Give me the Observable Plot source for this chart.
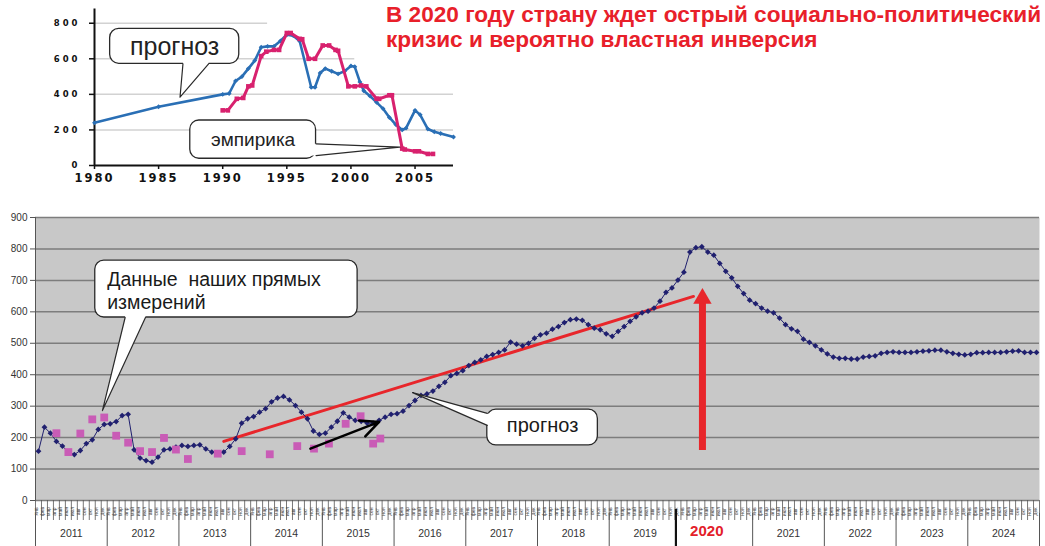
<!DOCTYPE html>
<html><head><meta charset="utf-8">
<script src="https://cdn.jsdelivr.net/npm/d3@7"></script>
<script src="https://cdn.jsdelivr.net/npm/@observablehq/plot@0.6"></script>
<style>
body{margin:0;background:#fff;font-family:"Liberation Sans",Arial,sans-serif;}
#wrap{position:relative;width:1045px;height:546px;overflow:hidden;background:#fff;}
#inset{position:absolute;left:0;top:0;}
#main{position:absolute;left:0;top:200px;}
#title{position:absolute;left:386px;top:2px;color:#e8202a;font-weight:bold;font-size:22.6px;line-height:25px;white-space:nowrap;}
</style></head><body>
<div id="wrap">
  <div id="inset"></div>
  <div id="title">В 2020 году страну ждет острый социально-политический<br>кризис и вероятно властная инверсия</div>
  <div id="main"></div>
</div>
<script>
// ---------- DATA: main chart (monthly, Jan 2011 .. Dec 2024) ----------
const years = [2011,2012,2013,2014,2015,2016,2017,2018,2019,2020,2021,2022,2023,2024];
const months = ["янв","фев","мар","апр","май","июн","июл","авг","сен","окт","ноя","дек"];
const monthlyForecast = [
  157,233,214,188,173,154,146,159,181,193,226,242,
  244,251,270,274,161,135,127,122,138,161,164,170,
  175,172,175,177,164,154,149,154,172,196,246,260,
  267,281,292,314,326,331,320,302,281,260,221,210,
  214,233,252,279,265,255,252,246,246,255,265,274,
  276,284,302,318,334,339,348,363,376,397,404,413,
  429,439,447,458,464,471,479,504,497,492,500,516,
  527,532,545,553,566,575,577,573,559,548,543,530,
  522,538,553,570,584,597,602,612,634,662,676,701,
  726,790,804,807,790,780,754,729,708,681,658,637,
  626,612,602,597,580,559,546,538,513,503,492,479,
  466,456,452,452,450,450,456,458,460,468,471,473,
  471,471,471,473,475,476,478,478,473,468,465,463,
  465,470,470,471,471,471,473,475,476,471,471,471
];
// empirical measurements (month index from Jan 2011, value)
const empiricalMonth = [3,5,7,9,11,13,15,17,19,21,23,25,30,34,38.7,43.3,46.1,48.6,51.4,53.9,56,57.2];
const empiricalValue = [214,154,213,258,264,206,184,157,154,199,162,132,149,157,147,173,165,181,244,268,181,197];
// trend line and arrows (month index, value)
const trendMonth = [31, 109.6];
const trendValue = [188, 649];
const blackArrow = {x1: 45.5, y1: 165, x2: 57, y2: 250};
const redArrow = {x: 111.1, y1: 159, y2: 676};
const yTicksMain = [0,100,200,300,400,500,600,700,800,900];

// ---------- DATA: inset chart (years) ----------
const insetForecastYear = [1980,1985,1990,1990.5,1991,1991.5,1992,1992.5,1993,1993.5,1994,1994.5,1995,1995.5,1996,1996.9,1997.2,1997.6,1998,1998.5,1999,1999.5,2000,2000.3,2000.7,2001,2001.5,2002,2002.5,2003,2003.5,2004,2004.3,2005,2005.4,2006,2006.5,2007,2008];
const insetForecastValue = [240,330,400,405,475,500,545,590,665,670,670,700,735,730,700,440,440,520,545,530,515,530,560,555,470,420,390,355,320,270,230,200,210,310,285,205,190,180,160];
const insetEmpYear = [1990,1990.4,1991.1,1991.6,1992,1992.3,1993,1993.4,1994,1994.4,1995,1995.3,1996,1996.2,1996.7,1997.2,1997.8,1998.3,1998.8,1999,1999.8,2000.3,2000.8,2001.2,2002,2002.2,2003,2003.2,2004,2004.2,2005,2005.3,2006,2006.4];
const insetEmpValue = [310,310,375,380,445,450,615,640,650,650,745,745,712,710,600,600,675,675,650,645,445,445,450,445,375,375,395,395,95,90,80,80,65,65];
const insetXTicks = [1980,1985,1990,1995,2000,2005];
const insetYTicks = [0,200,400,600,800];
const insetGrid = [{y:200, x2:2008},{y:400, x2:2008},{y:600, x2:2000.3},{y:800, x2:1993.5}];

// ---------- helpers ----------
const ink = "#2a2a2a";
function callout(box, ptr) {
  const {b1, b2, tip, inX = 0, inY = 0} = ptr;
  const fillPts = [{x: b1.x + inX, y: b1.y + inY}, b1, tip, b2, {x: b2.x + inX, y: b2.y + inY}];
  return [
    Plot.rect([box], {x1: "x1", x2: "x2", y1: "y1", y2: "y2", fill: "white", stroke: ink, strokeWidth: 1.3, rx: 9}),
    Plot.line(fillPts, {x: "x", y: "y", fill: "white", stroke: "none"}),
    Plot.line([b1, tip, b2], {x: "x", y: "y", stroke: ink, strokeWidth: 1.2})
  ];
}

// ---------- inset chart ----------
const insetBlue = "#2a6fb5", insetPink = "#d8216e";
const fcast = insetForecastYear.map((x, k) => ({x, y: insetForecastValue[k]}));
const emp = insetEmpYear.map((x, k) => ({x, y: insetEmpValue[k]}));
const inset = Plot.plot({
  width: 470, height: 190,
  marginLeft: 94, marginRight: 17, marginTop: 8.5, marginBottom: 25,
  x: {domain: [1980, 2008], axis: null},
  y: {domain: [0, 880], axis: null},
  style: {fontFamily: "'Liberation Sans', Arial, sans-serif", background: "white", color: "#111"},
  marks: [
    Plot.ruleY(insetGrid, {y: "y", x1: 1980, x2: "x2", stroke: "#d2d2d2", strokeWidth: 1.5}),
    Plot.ruleX([1980], {stroke: "#111", strokeWidth: 2}),
    Plot.ruleY([0], {stroke: "#111", strokeWidth: 2}),
    Plot.axisX(insetXTicks, {tickSize: 4, tickPadding: 4, tickFormat: "d", fontSize: 11.5, fontWeight: "bold", fontFamily: "DejaVu Sans", stroke: "#111", strokeWidth: 1.5}),
    Plot.axisY(insetYTicks, {tickSize: 5, tickPadding: 9, tickFormat: "d", fontSize: 8.5, fontWeight: "bold", fontFamily: "DejaVu Sans", stroke: "#111", strokeWidth: 1.5, label: null}),
    Plot.line(fcast, {x: "x", y: "y", stroke: insetBlue, strokeWidth: 2.6}),
    Plot.dot(fcast, {x: "x", y: "y", symbol: "diamond2", r: 2.2, fill: insetBlue}),
    Plot.line(emp, {x: "x", y: "y", stroke: insetPink, strokeWidth: 3}),
    Plot.dot(emp, {x: "x", y: "y", symbol: "square", r: 2.6, fill: insetPink}),
    ...callout({x1: 1981.22, x2: 1991.29, y1: 572, y2: 768},
      {b1: {x: 1986.9, y: 572}, b2: {x: 1988.9, y: 572}, tip: {x: 1986.67, y: 384}, inY: 15}),
    Plot.text(["прогноз"], {x: 1986.25, y: 668, text: d => d, fontSize: 25, fill: "#222"}),
    ...callout({x1: 1987.47, x2: 1997.28, y1: 38, y2: 253},
      {b1: {x: 1997.28, y: 122}, b2: {x: 1997.28, y: 56}, tip: {x: 2003.81, y: 103}, inX: -0.4}),
    Plot.text(["эмпирика"], {x: 1992.37, y: 145, text: d => d, fontSize: 19, fill: "#222"})
  ]
});
d3.select(inset).selectAll('g[aria-label="y-axis tick label"] text').attr("letter-spacing", 3);
d3.select(inset).selectAll('g[aria-label="x-axis tick label"] text').attr("letter-spacing", 2);
document.getElementById("inset").appendChild(inset);

// ---------- main chart ----------
const navy = "#20206f", red = "#e8262b";
const idx = d3.range(monthlyForecast.length);
const yearBounds = d3.range(years.length + 1).map(k => 12 * k - 0.5).filter(v => v !== 107.5);
const monthBounds = d3.range(monthlyForecast.length + 1).map(k => k - 0.5);
const empPts = empiricalMonth.map((x, k) => ({x, y: empiricalValue[k]}));
const trendPts = trendMonth.map((x, k) => ({x, y: trendValue[k]}));

const main = Plot.plot({
  width: 1045, height: 346,
  marginLeft: 35, marginRight: 6, marginTop: 17, marginBottom: 46,
  x: {domain: [-0.5, 167.5], axis: null},
  y: {domain: [0, 900], axis: null},
  style: {fontFamily: "'Liberation Sans', Arial, sans-serif", fontSize: "10px", background: "white", color: "#333"},
  marks: [
    Plot.frame({fill: "#c8c8c8", stroke: "none"}),
    Plot.gridY(yTicksMain, {stroke: "#7d7d7d", strokeOpacity: 1, strokeWidth: 1.5}),
    Plot.axisY(yTicksMain, {tickSize: 5, tickPadding: 3, fontSize: 10, fill: "#333", stroke: "#555", label: null}),
    Plot.ruleX([-0.5], {stroke: "#555", strokeWidth: 1}),
    // month ticks and labels
    Plot.ruleX(monthBounds, {stroke: "#555", strokeWidth: 0.8, insetTop: 283, insetBottom: -20}),
    Plot.text(idx, {x: d => d, frameAnchor: "bottom", dy: 11, rotate: -90, text: d => months[d % 12], fontSize: 5, fill: "#444"}),
    // year separators and labels
    Plot.ruleX(yearBounds, {stroke: "#555", strokeWidth: 1, insetTop: 296, insetBottom: -46}),
    Plot.ruleX([107.5], {stroke: "#111", strokeWidth: 2.2, dx: -5, insetTop: 292, insetBottom: -46}),
    Plot.text(years.filter(y => y !== 2020), {x: y => (y - 2011) * 12 + 5.5, frameAnchor: "bottom", dy: 36, text: d => String(d), fontSize: 10.5, fill: "#333"}),
    Plot.text([2020], {x: y => (y - 2011) * 12 + 5.5, frameAnchor: "bottom", dy: 35, dx: -10, text: d => String(d), fontSize: 15, fontWeight: "bold", fill: "#e3202a"}),
    // data
    Plot.line(trendPts, {x: "x", y: "y", stroke: red, strokeWidth: 3}),
    Plot.line(idx, {x: d => d, y: d => monthlyForecast[d], stroke: navy, strokeWidth: 1}),
    Plot.dot(idx, {x: d => d, y: d => monthlyForecast[d], symbol: "diamond2", r: 2.6, fill: navy}),
    Plot.dot(empPts, {x: "x", y: "y", symbol: "square", r: 4.4, fill: "#c95cb6"}),
    Plot.arrow([blackArrow], {x1: "x1", y1: "y1", x2: "x2", y2: "y2", stroke: "black", strokeWidth: 2.5, headLength: 12, headAngle: 50}),
    Plot.ruleX([redArrow], {x: "x", y1: "y1", y2: d => d.y2 - 40, stroke: red, strokeWidth: 7}),
    Plot.dot([redArrow], {x: "x", y: "y2", symbol: "triangle", r: 6.8, dy: 10.6, fill: red}),
    // callouts
    ...callout({x1: 9.5, x2: 53.4, y1: 582, y2: 763},
      {b1: {x: 14.5, y: 582}, b2: {x: 17.9, y: 582}, tip: {x: 10.7, y: 286}, inY: 12}),
    Plot.text(["Данные\u00a0 наших прямых\nизмерений"], {x: 11.5, y: 734, text: d => d, textAnchor: "start", lineAnchor: "top", lineHeight: 1.18, fontSize: 19.5, fill: "#1a1a1a"}),
    ...callout({x1: 75.1, x2: 93.6, y1: 175, y2: 289},
      {b1: {x: 75.1, y: 277}, b2: {x: 75.1, y: 239}, tip: {x: 62.6, y: 343}, inX: 0.7}),
    Plot.text(["прогноз"], {x: 84.35, y: 238, text: d => d, fontSize: 20, fill: "#1a1a1a"})
  ]
});
document.getElementById("main").appendChild(main);
</script>
</body></html>
